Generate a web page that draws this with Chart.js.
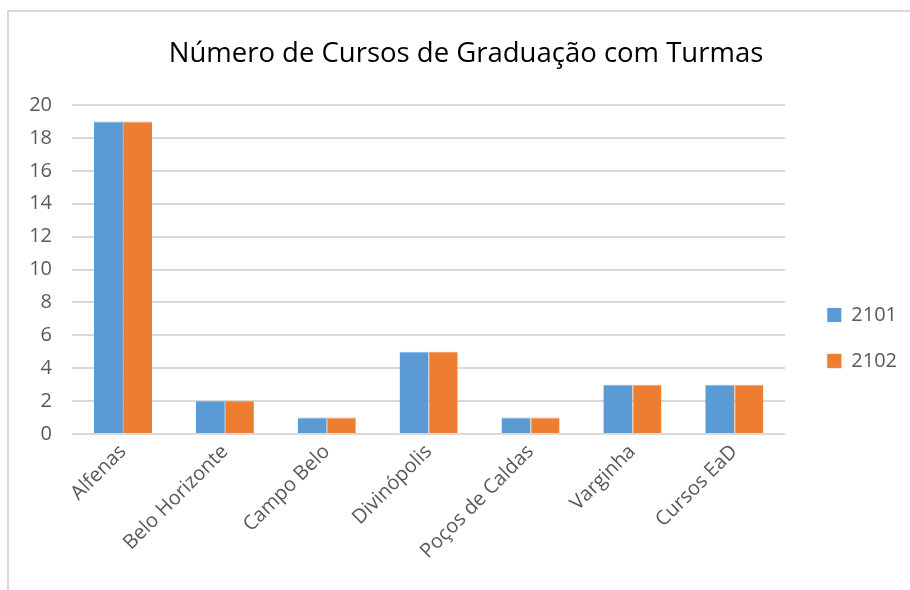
<!DOCTYPE html>
<html>
<head>
<meta charset="utf-8">
<script src="https://cdn.jsdelivr.net/npm/chart.js@4"></script>
<style>
  html, body { margin: 0; padding: 0; background: #fff; }
  #wrap { position: relative; width: 910px; height: 590px; overflow: hidden; }
  #frame { position: absolute; left: 7px; top: 10px; width: 1000px; height: 1000px; border: 2px solid #d9d9d9; box-sizing: border-box; }
  #c { position: absolute; left: 0; top: 0; }
</style>
</head>
<body>
<div id="wrap">
  <div id="frame"></div>
  <canvas id="c" width="910" height="590"></canvas>
</div>
<script>
const categories = ["Alfenas", "Belo Horizonte", "Campo Belo", "Divinópolis", "Poços de Caldas", "Varginha", "Cursos EaD"];
const series2101 = [19, 2, 1, 5, 1, 3, 3];
const series2102 = [19, 2, 1, 5, 1, 3, 3];
const seriesNames = ["2101", "2102"];
const yTicks = [0, 2, 4, 6, 8, 10, 12, 14, 16, 18, 20];
const chartTitle = "Número de Cursos de Graduação com Turmas";

const FONT = "'Open Sans', 'Liberation Sans', sans-serif";
const TXT = "#595959";
const GRID = "#d9d9d9";

new Chart(document.getElementById("c"), {
  type: "bar",
  data: {
    labels: categories,
    datasets: [
      { label: seriesNames[0], data: series2101, backgroundColor: "#5b9bd5", borderColor: "#7fb0de", borderWidth: { left: 0, top: 1, right: 0, bottom: 0 }, barPercentage: 1, categoryPercentage: 0.57 },
      { label: seriesNames[1], data: series2102, backgroundColor: "#ed7d31", borderColor: "#f29a5e", borderWidth: { left: 1, top: 1, right: 0, bottom: 0 }, barPercentage: 1, categoryPercentage: 0.57 }
    ]
  },
  options: {
    responsive: false,
    animation: false,
    devicePixelRatio: 1,
    layout: { padding: { left: 25, right: 3, top: 0, bottom: 0 } },
    plugins: {
      title: {
        display: true,
        text: chartTitle,
        color: "#000",
        font: { family: FONT, size: 27.5, weight: "normal", lineHeight: 1.2 },
        padding: { top: 38, bottom: 34 }
      },
      legend: {
        position: "right",
        align: "center",
        title: { display: true, text: " ", font: { family: FONT, size: 20, lineHeight: 1 }, padding: { top: 0, bottom: 66 } },
        labels: {
          color: TXT,
          font: { family: FONT, size: 20 },
          boxWidth: 14,
          boxHeight: 14,
          padding: 26
        }
      },
      tooltip: { enabled: false }
    },
    scales: {
      x: {
        grid: { display: false, drawTicks: false },
        border: { display: false },
        ticks: { color: TXT, font: { family: FONT, size: 20 }, maxRotation: 45, minRotation: 45, padding: 6 },
        afterFit: (s) => { s.height = 156; }
      },
      y: {
        min: 0, max: 20,
        afterBuildTicks: (s) => { s.ticks = yTicks.map(v => ({ value: v })); },
        grid: { color: GRID, lineWidth: 2, drawTicks: false },
        border: { display: false },
        ticks: { color: TXT, font: { family: FONT, size: 20 }, padding: 20 },
        afterFit: (s) => { s.width = 47; }
      },
      gap: {
        type: "linear",
        position: "right",
        display: true,
        grid: { display: false, drawTicks: false },
        border: { display: false },
        ticks: { display: false },
        afterFit: (s) => { s.width = 16; }
      }
    }
  }
});
</script>
</body>
</html>
